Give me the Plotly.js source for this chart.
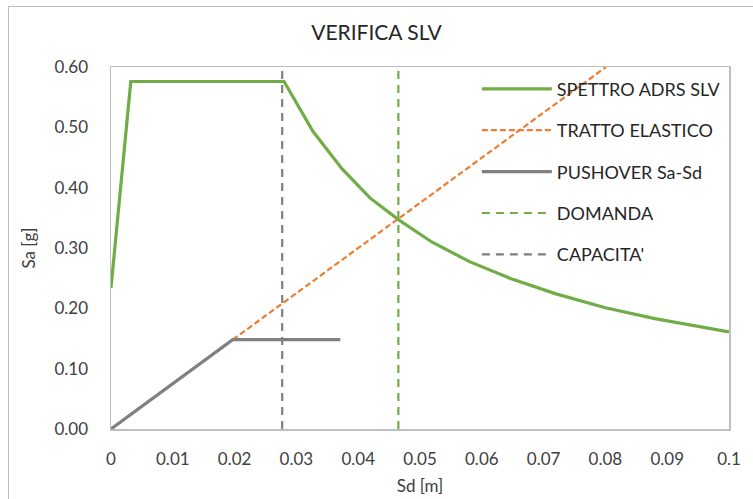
<!DOCTYPE html>
<html>
<head>
<meta charset="utf-8">
<script src="https://cdn.plot.ly/plotly-3.0.1.min.js"></script>
<style>
  html, body { margin: 0; padding: 0; background: #fff; }
  #wrap { position: relative; width: 753px; height: 499px; overflow: hidden; }
  #frame { position: absolute; left: 8px; top: 6px; width: 800px; height: 600px; border: 1.5px solid #BFBFBF; box-sizing: border-box; pointer-events: none; }
  #chart { position: absolute; left: 0; top: 0; width: 753px; height: 499px; }
</style>
</head>
<body>
<div id="wrap">
  <div id="chart"></div>
  <div id="frame"></div>
</div>
<script>
// Spectrum ADRS SLV (Sd [m], Sa [g])
const spettroSd = [0, 0.0032, 0.0280, 0.0327, 0.0374, 0.0419, 0.0465, 0.0519, 0.0581, 0.065, 0.072, 0.080, 0.088, 0.096, 0.100];
const spettroSa = [0.234, 0.576, 0.576, 0.493, 0.431, 0.383, 0.347, 0.310, 0.277, 0.248, 0.224, 0.201, 0.183, 0.168, 0.161];

// Elastic branch
const elasticoSd = [0.0197, 0.0801];
const elasticoSa = [0.148, 0.600];

// Pushover Sa-Sd (bilinear)
const pushSd = [0, 0.0197, 0.0371];
const pushSa = [0, 0.148, 0.148];

// Demand and capacity displacements
const domandaSd = [0.0465, 0.0465];
const domandaSa = [0, 0.6];
const capacitaSd = [0.0277, 0.0277];
const capacitaSa = [0, 0.6];

const xTicks = [0, 0.01, 0.02, 0.03, 0.04, 0.05, 0.06, 0.07, 0.08, 0.09, 0.1];
const xTickText = ['0', '0.01', '0.02', '0.03', '0.04', '0.05', '0.06', '0.07', '0.08', '0.09', '0.1'];
const yTicks = [0, 0.1, 0.2, 0.3, 0.4, 0.5, 0.6];
const yTickText = ['0.00', '0.10', '0.20', '0.30', '0.40', '0.50', '0.60'];

const FONT = 'Lato, "Open Sans", sans-serif';

const traces = [
  { x: spettroSd, y: spettroSa, mode: 'lines', name: 'SPETTRO ADRS SLV', legendgroup: 'a',
    line: { color: '#70AD47', width: 3.2 } },
  { x: elasticoSd, y: elasticoSa, mode: 'lines', name: 'TRATTO ELASTICO', legendgroup: 'b',
    line: { color: '#ED7D31', width: 2.2, dash: '6px,3px' } },
  { x: pushSd, y: pushSa, mode: 'lines', name: 'PUSHOVER Sa-Sd', legendgroup: 'c',
    line: { color: '#808080', width: 3.2 } },
  { x: domandaSd, y: domandaSa, mode: 'lines', name: 'DOMANDA', legendgroup: 'd',
    line: { color: '#70AD47', width: 2.2, dash: '8px,6px' } },
  { x: capacitaSd, y: capacitaSa, mode: 'lines', name: "CAPACITA'", legendgroup: 'e',
    line: { color: '#7F7F7F', width: 2.2, dash: '8px,6px' } }
];

const layout = {
  width: 753, height: 499,
  margin: { l: 111, r: 24, t: 67, b: 70 },
  paper_bgcolor: '#fff', plot_bgcolor: '#fff',
  font: { family: FONT, size: 17, color: '#404040' },
  title: { text: 'VERIFICA SLV', x: 0.5, xanchor: 'center', y: 0.935, yanchor: 'middle',
           font: { family: FONT, size: 21, color: '#262626' } },
  showlegend: true,
  legend: { x: 0.592, xanchor: 'left', y: 0.99, yanchor: 'top', bgcolor: 'rgba(0,0,0,0)', itemwidth: 70,
            traceorder: 'grouped', tracegroupgap: 15, font: { family: FONT, size: 18, color: '#262626' } },
  xaxis: {
    range: [0, 0.1], tickvals: xTicks, ticktext: xTickText, showgrid: false, zeroline: false,
    showline: true, mirror: true, linecolor: '#BFBFBF', linewidth: 1.5, ticks: '', ticklabelstandoff: 14,
    tickfont: { family: FONT, size: 17, color: '#404040' },
    title: { text: 'Sd [m]', standoff: 12, font: { family: FONT, size: 17, color: '#404040' } }
  },
  yaxis: {
    range: [0, 0.6], tickvals: yTicks, ticktext: yTickText, showgrid: false, zeroline: false,
    showline: true, mirror: true, linecolor: '#BFBFBF', linewidth: 1.5, ticks: '', ticklabelstandoff: 18,
    tickfont: { family: FONT, size: 17, color: '#404040' },
    title: { text: 'Sa [g]', standoff: 14, font: { family: FONT, size: 17, color: '#404040' } }
  }
};

Plotly.newPlot('chart', traces, layout, { displayModeBar: false, staticPlot: true });
</script>
</body>
</html>
